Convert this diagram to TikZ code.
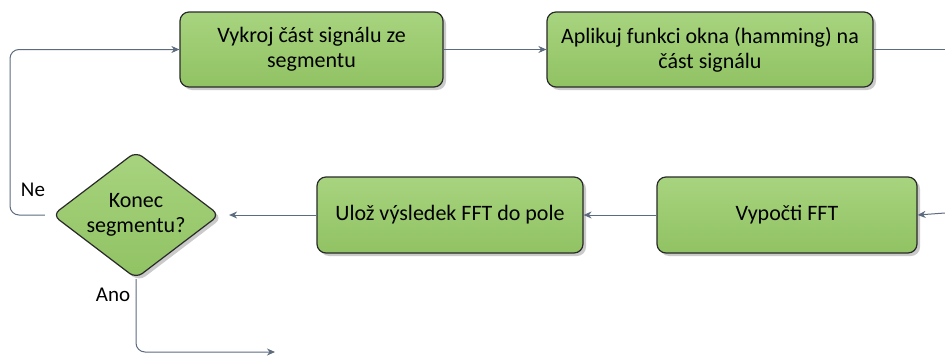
\documentclass[tikz,border=0pt]{standalone}
\usepackage{fontspec}
\setmainfont{Carlito}
\usetikzlibrary{shapes.geometric,arrows.meta,shadows}
\definecolor{boxfill}{HTML}{98CC68}
\definecolor{boxline}{HTML}{2A2A2A}
\definecolor{conn}{HTML}{5C6B7E}
\tikzset{
  stepbox/.style={draw=boxline, line width=1.2pt, fill=boxfill, rounded corners=9pt,
    align=center, font=\fontsize{22}{25}\selectfont, inner sep=0pt,
    drop shadow={shadow xshift=3pt, shadow yshift=-3pt, fill=black!35, opacity=0.6},
    top color=boxfill!85!white, bottom color=boxfill!95!black},
  decide/.style={diamond, draw=boxline, line width=1.2pt, rounded corners=8pt,
    align=center, font=\fontsize{22}{25}\selectfont, inner sep=0pt,
    drop shadow={shadow xshift=3pt, shadow yshift=-3pt, fill=black!35, opacity=0.6},
    top color=boxfill!85!white, bottom color=boxfill!95!black},
  conn/.style={draw=conn, line width=1pt, -{Stealth[length=8pt,width=7pt]}},
  plain/.style={draw=conn, line width=1pt},
  lbl/.style={font=\fontsize{21}{24}\selectfont, inner sep=0pt}
}
\begin{document}
\begin{tikzpicture}[x=1pt,y=-1pt]
\useasboundingbox (0,0) rectangle (945,356);
\node[stepbox, minimum width=263pt, minimum height=75pt] (b1) at (311.5,49.5)
  {Vykroj část signálu ze\\segmentu};
\node[stepbox, minimum width=326pt, minimum height=75pt] (b2) at (710,49.5)
  {Aplikuj funkci okna (hamming) na\\část signálu};
\node[stepbox, minimum width=260pt, minimum height=76pt] (b3) at (787,215)
  {Vypočti FFT};
\node[stepbox, minimum width=266pt, minimum height=76pt] (b4) at (450,215)
  {Ulož výsledek FFT do pole};
\node[decide, minimum width=167pt, minimum height=127pt, aspect=1.34] (d) at (136,215)
  {Konec\\segmentu?};
\coordinate (rin) at (945,49.5);
\coordinate (rout) at (945,213);
\coordinate (dend) at (275,352);
\draw[plain] (b2.east) -- (rin);
\draw[conn] (b1.east) -- (b2.west);
\draw[conn] (rout) -- (b3.east);
\draw[conn] (b3.west) -- (b4.east);
\draw[conn, shorten >=9pt] (b4.west) -- (d.east);
\draw[conn, rounded corners=9pt, shorten <=7pt] (d.west) -- (10,215) -- (10,49.5) -- (b1.west);
\draw[conn, rounded corners=9pt] (d.south) -- (d.south |- dend) -- (dend);
\node[lbl] (ne) at (33,190) {Ne};
\node[lbl] (ano) at (113,295) {Ano};
\end{tikzpicture}
\end{document}
